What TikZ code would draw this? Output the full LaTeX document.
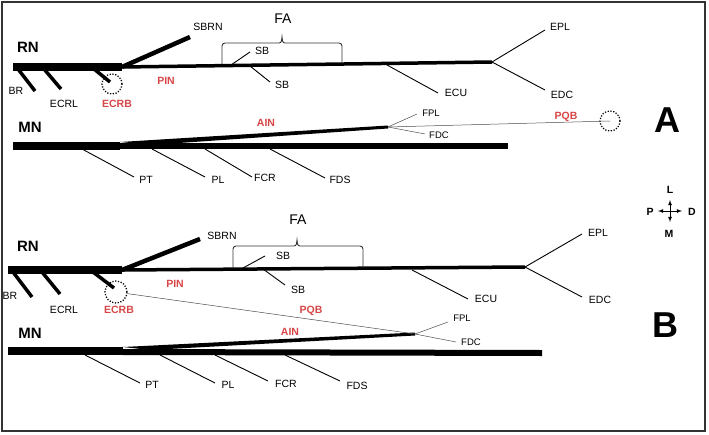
\documentclass[tikz,border=0pt]{standalone}
\usepackage{fontspec}
\setmainfont{Liberation Sans}
\definecolor{lred}{RGB}{215,70,70}
\begin{document}
\begin{tikzpicture}[x=1pt,y=-1pt,
  lab/.style={font=\fontsize{10.5}{12}\selectfont, inner sep=0pt},
  rlab/.style={lab, text=lred, font=\fontsize{10.5}{12}\selectfont\bfseries},
  big/.style={font=\fontsize{15}{18}\selectfont\bfseries, inner sep=0pt},
  nerve/.style={line width=#1, line cap=butt},
  thinb/.style={line width=0.9pt},
  fine/.style={line width=0.5pt, gray!60!black},
  dot/.style={dash pattern=on 1.2pt off 1.6pt, line width=1.3pt}]
\useasboundingbox (0,0) rectangle (709,434);
\draw[line width=1.5pt, black!80] (2,2) rectangle (705,431);

% ================= Panel A =================
\node[big] (rnA) at (28,47) {RN};
\coordinate (a0) at (13,67); \coordinate (a1) at (122,67); \coordinate (a2) at (492,62);
\draw[nerve=8pt] (a0) -- (a1);
\draw[nerve=3.5pt] (a1) -- (a2);
\coordinate (sbrnA) at (190,37);
\draw[nerve=4.5pt] (a1) -- (sbrnA);
\node[lab] (tsbrnA) at (208,27) {SBRN};
\draw[line width=3.5pt] (18,69) -- (35,91); \node[lab] (tbrA) at (16,91) {BR};
\draw[line width=3.5pt] (44,69) -- (61,89); \node[lab] (tecrlA) at (64,104) {ECRL};
\draw[line width=3.5pt] (94,69) -- (110,82);
\node[draw,dot,circle,minimum size=20pt,inner sep=0pt] (cA) at (112,84) {};
\node[rlab] (tecrbA) at (117,104) {ECRB};
\node[rlab] (tpinA) at (166,81) {PIN};
% FA bracket
\draw[thinb, gray!40!black] (222,64) -- (222,46) to[out=90,in=180] (225,43) -- (279,43) to[out=0,in=270] (282,37) to[out=270,in=180] (285,43) -- (339,43) to[out=0,in=90] (342,46) -- (342,63);
\node[font=\fontsize{14}{16}\selectfont, inner sep=0pt] (faA) at (283,19) {FA};
\draw[thinb] (231,65) -- (250,52); \node[lab] (sb1A) at (262,51) {SB};
\draw[thinb] (250,66) -- (270,82); \node[lab] (sb2A) at (282,85) {SB};
\draw[thinb] (387,65) -- (438,93); \node[lab] (ecuA) at (456,93) {ECU};
\draw[thinb] (a2) -- (545,30); \node[lab] (eplA) at (560,27) {EPL};
\draw[thinb] (a2) -- (545,90); \node[lab] (edcA) at (562,95) {EDC};
% MN
\node[big] (mnA) at (30,127) {MN};
\coordinate (m1) at (120,146);
\draw[nerve=8pt] (13,146) -- (m1);
\draw[nerve=6pt] (m1) -- (508,146);
\coordinate (fA) at (388,127);
\fill (120,142) -- (388,125.5) -- (388,128.5) -- (150,145) -- cycle;
\node[rlab] (ainA) at (266,123) {AIN};
\draw[fine] (fA) -- (417,114); \node[lab,font=\fontsize{9.5}{11}\selectfont] (fplA) at (431,113) {FPL};
\draw[fine] (fA) -- (425,134); \node[lab,font=\fontsize{9.5}{11}\selectfont] (fdcA) at (439,135) {FDC};
\node[draw,dot,circle,minimum size=20pt,inner sep=0pt] (cA2) at (610,121) {};
\draw[fine] (fA) -- (cA2.center);
\node[rlab] (pqbA) at (566,117) {PQB};
\draw[thinb] (82,149) -- (134,177); \node[lab] (ptA) at (146,180) {PT};
\draw[thinb] (152,149) -- (205,177); \node[lab] (plA) at (218,180) {PL};
\draw[thinb] (205,149) -- (252,177); \node[lab] (fcrA) at (265,178) {FCR};
\draw[thinb] (270,149) -- (325,178); \node[lab] (fdsA) at (340,180) {FDS};
\node[font=\fontsize{36}{40}\selectfont\bfseries, inner sep=0pt] (A) at (667,120) {A};

% compass
\coordinate (cc) at (670,211);
\draw[-latex, line width=0.8pt] (cc) -- +(0,-11);
\draw[-latex, line width=0.8pt] (cc) -- +(0,11);
\draw[-latex, line width=0.8pt] (cc) -- +(-12,0);
\draw[-latex, line width=0.8pt] (cc) -- +(12,0);
\node[lab,font=\fontsize{10.5}{12}\selectfont\bfseries] (cL) at (670,190) {L};
\node[lab,font=\fontsize{10.5}{12}\selectfont\bfseries] (cM) at (669,234) {M};
\node[lab,font=\fontsize{10.5}{12}\selectfont\bfseries] (cP) at (650,212) {P};
\node[lab,font=\fontsize{10.5}{12}\selectfont\bfseries] (cD) at (692,212) {D};

% ================= Panel B =================
\node[big] (rnB) at (28,246) {RN};
\coordinate (b1) at (122,270); \coordinate (b2) at (525,267);
\draw[nerve=8pt] (8,270) -- (b1);
\draw[nerve=3.5pt] (b1) -- (b2);
\draw[nerve=4.5pt] (b1) -- (200,239);
\node[lab] (tsbrnB) at (222,236) {SBRN};
\draw[line width=3.5pt] (13,272) -- (32,297); \node[lab] (tbrB) at (10,296) {BR};
\draw[line width=3.5pt] (42,272) -- (60,294); \node[lab] (tecrlB) at (64,310) {ECRL};
\draw[line width=3.5pt] (93,272) -- (114,288);
\node[draw,dot,circle,minimum size=22pt,inner sep=0pt] (cB) at (116,292) {};
\node[rlab] (tecrbB) at (119,310) {ECRB};
\node[rlab] (tpinB) at (175,284) {PIN};
\draw[thinb, gray!40!black] (233,268) -- (233,249) to[out=90,in=180] (236,246) -- (294,246) to[out=0,in=270] (297,240) to[out=270,in=180] (300,246) -- (360,246) to[out=0,in=90] (363,249) -- (363,268);
\node[font=\fontsize{14}{16}\selectfont, inner sep=0pt] (faB) at (298,220) {FA};
\draw[thinb] (243,268) -- (265,256); \node[lab] (sb1B) at (283,256) {SB};
\draw[thinb] (263,269) -- (285,285); \node[lab] (sb2B) at (298,290) {SB};
\draw[thinb] (412,270) -- (468,299); \node[lab] (ecuB) at (486,299) {ECU};
\draw[thinb] (b2) -- (582,234); \node[lab] (eplB) at (598,233) {EPL};
\draw[thinb] (b2) -- (582,297); \node[lab] (edcB) at (600,300) {EDC};
\node[big] (mnB) at (30,333) {MN};
\draw[nerve=8pt] (8,351) -- (123,351);
\draw[nerve=6pt] (123,352) -- (542,353);
\coordinate (fB) at (415,334);
\fill (123,347) -- (415,332.5) -- (415,335.5) -- (150,350) -- cycle;
\node[rlab] (ainB) at (290,332) {AIN};
\draw[fine] (cB) -- (fB);
\node[rlab] (pqbB) at (311,311) {PQB};
\draw[fine] (fB) -- (448,322); \node[lab,font=\fontsize{9.5}{11}\selectfont] (fplB) at (462,318) {FPL};
\draw[fine] (fB) -- (456,342); \node[lab,font=\fontsize{9.5}{11}\selectfont] (fdcB) at (471,342) {FDC};
\draw[thinb] (85,355) -- (140,383); \node[lab] (ptB) at (152,385) {PT};
\draw[thinb] (160,355) -- (215,383); \node[lab] (plB) at (228,385) {PL};
\draw[thinb] (215,355) -- (268,381); \node[lab] (fcrB) at (286,384) {FCR};
\draw[thinb] (285,355) -- (340,381); \node[lab] (fdsB) at (357,386) {FDS};
\node[font=\fontsize{36}{40}\selectfont\bfseries, inner sep=0pt] (B) at (665,325) {B};
\end{tikzpicture}
\end{document}
